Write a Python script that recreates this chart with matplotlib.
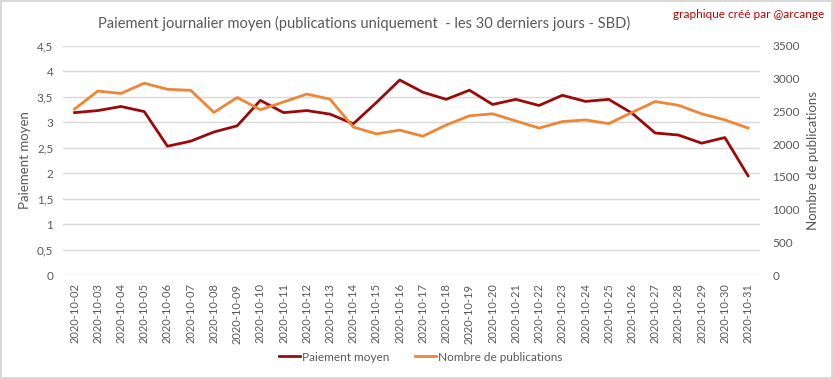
import matplotlib
matplotlib.use("Agg")
import matplotlib.pyplot as plt
from matplotlib.lines import Line2D

plt.rcParams['font.family'] = ['Lato', 'DejaVu Sans']

dates = ["2020-10-%02d" % d for d in range(2, 32)]
paiement = [3.19, 3.23, 3.31, 3.21, 2.53, 2.63, 2.81, 2.93, 3.43, 3.19,
            3.23, 3.16, 2.97, 3.39, 3.83, 3.59, 3.45, 3.63, 3.35, 3.45,
            3.33, 3.53, 3.41, 3.45, 3.18, 2.79, 2.75, 2.59, 2.70, 1.95]
publications = [2536, 2810, 2774, 2930, 2837, 2821, 2484, 2712, 2525, 2644,
                2764, 2686, 2261, 2157, 2214, 2121, 2292, 2432, 2463, 2354,
                2245, 2344, 2370, 2313, 2484, 2650, 2593, 2463, 2370, 2245]

left_ticks = [0, 0.5, 1, 1.5, 2, 2.5, 3, 3.5, 4, 4.5]
left_labels = ["0", "0,5", "1", "1,5", "2", "2,5", "3", "3,5", "4", "4,5"]
right_ticks = [0, 500, 1000, 1500, 2000, 2500, 3000, 3500]

c_red = "#9b0a0a"
c_orange = "#f08537"
c_text = "#595959"
c_grid = "#d9d9d9"

fig = plt.figure(figsize=(8.33, 3.79), dpi=100)
fig.patch.set_edgecolor("#d9d9d9")
fig.patch.set_linewidth(1.5)
ax = fig.add_axes([0.0756, 0.274, 0.8364, 0.605])
ax2 = ax.twinx()

x = list(range(len(dates)))
ax.plot(x, paiement, color=c_red, lw=2.0, zorder=3)
ax2.plot(x, publications, color=c_orange, lw=2.0, zorder=2)

ax.set_xlim(-0.5, len(dates) - 0.5)
ax.set_ylim(0, 4.5)
ax2.set_ylim(0, 3500)
ax.set_yticks(left_ticks)
ax.set_yticklabels(left_labels)
ax2.set_yticks(right_ticks)
ax2.set_yticklabels([str(v) for v in right_ticks])
ax.set_xticks(x)
ax.set_xticklabels(dates, rotation=90)

ax.grid(axis='y', color=c_grid, lw=1)
ax.set_axisbelow(True)
for a in (ax, ax2):
    for s in a.spines.values():
        s.set_visible(False)
    a.tick_params(length=0, colors=c_text, labelsize=8.5)
ax.tick_params(axis='y', pad=7)
ax2.tick_params(axis='y', pad=9)
ax.tick_params(axis='x', pad=6, labelsize=8)

ax.set_ylabel("Paiement moyen", color=c_text, fontsize=9.5, labelpad=4)
ax2.set_ylabel("Nombre de publications", color=c_text, fontsize=9.5, labelpad=5)

fig.text(0.437, 0.938, "Paiement journalier moyen (publications uniquement  - les 30 derniers jours - SBD)",
         ha='center', va='center', fontsize=10.5, color=c_text)
fig.text(0.99, 0.962, "graphique créé par @arcange", ha='right', va='center',
         fontsize=8.5, color="#c00000")

handles = [Line2D([0], [0], color=c_red, lw=2), Line2D([0], [0], color=c_orange, lw=2)]
fig.legend(handles, ["Paiement moyen", "Nombre de publications"], loc='center',
           bbox_to_anchor=(0.505, 0.058), ncol=2, frameon=False, fontsize=8.5,
           labelcolor=c_text, handlelength=1.8, handletextpad=0.15, columnspacing=2.2)

fig.savefig("out.png", dpi=100, edgecolor=fig.get_edgecolor())
